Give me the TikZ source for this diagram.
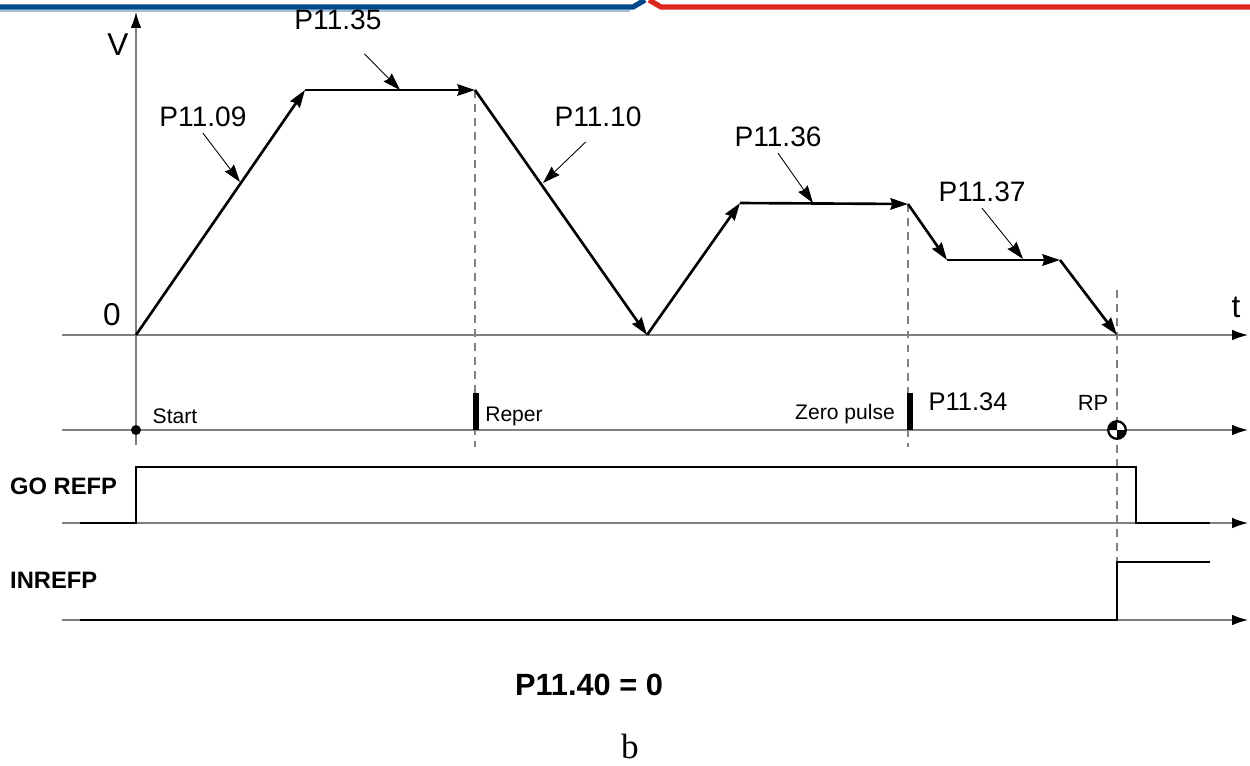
\documentclass[tikz,border=0pt]{standalone}
\usepackage{fontspec}
\setmainfont{Liberation Serif}
\setsansfont{Liberation Sans}
\usetikzlibrary{arrows.meta}
\definecolor{hdrblue}{RGB}{0,72,140}
\definecolor{hdrred}{RGB}{220,40,30}
\tikzset{
  axis/.style={gray,line width=0.8pt,-{Latex[length=9pt,width=6pt,color=black]}},
  prof/.style={line width=1.5pt,-{Stealth[length=10pt,width=6.5pt,inset=1pt]}},
  pointer/.style={line width=0.5pt,-{Stealth[length=10pt,width=6.5pt,inset=1pt]}},
  sig/.style={line width=1.6pt},
  guide/.style={gray,line width=0.7pt,dash pattern=on 4.5pt off 3.5pt},
  lbl/.style={font=\sffamily\fontsize{16}{18}\selectfont},
  tag/.style={font=\sffamily\fontsize{12}{14}\selectfont},
  signame/.style={font=\sffamily\bfseries\fontsize{13.5}{15}\selectfont,anchor=west}
}
\begin{document}
\begin{tikzpicture}[x=0.02cm,y=-0.02cm]
	\useasboundingbox (0,0) rectangle (1250,765);
	\draw [hdrblue,line width=3pt] (0,7) -- (633,7) -- (645,0);
	\draw [hdrblue!35,line width=0.8pt] (0,11) -- (630,11);
	\draw [hdrred,line width=3pt] (649,0) -- (661,7) -- (1250,7);

	\draw [axis] (136,445) -- (136,12);
	\foreach \y in {335,430,523,620}
		\draw [axis] (62,\y) -- (1248,\y);
	\node [lbl,font=\sffamily\fontsize{18}{20}\selectfont] (v) at (118,45) {V};
	\node [lbl,font=\sffamily\fontsize{18}{20}\selectfont] (zero) at (112,315) {0};
	\node [lbl,font=\sffamily\fontsize{18}{20}\selectfont] (t) at (1236,307) {t};

	\coordinate (p0) at (136,335);
	\coordinate (p1) at (305,90);
	\coordinate (p2) at (475,90);
	\coordinate (p3) at (647,335);
	\coordinate (p4) at (740,203);
	\coordinate (p5) at (908,204);
	\coordinate (p6) at (947,260);
	\coordinate (p7) at (1060,260);
	\coordinate (p8) at (1117,335);
	\draw [guide] (p2) -- (475,447);
	\draw [guide] (p5) -- (908,447);
	\draw [guide] (1117,290) -- (1117,562);
	\foreach \a/\b in {p0/p1,p1/p2,p2/p3,p3/p4,p4/p5,p5/p6,p6/p7,p7/p8}
		\draw [prof] (\a) -- (\b);

	\node [lbl] (l35) at (338,20) {P11.35};
	\node [lbl] (l09) at (203,117) {P11.09};
	\node [lbl] (l10) at (598,117) {P11.10};
	\node [lbl] (l36) at (778,137) {P11.36};
	\node [lbl] (l37) at (982,192) {P11.37};
	\coordinate (a35) at (400,90);
	\coordinate (a09) at (240,182);
	\coordinate (a10) at (543,183);
	\coordinate (a36) at (813,203);
	\coordinate (a37) at (1023,259);
	\draw [pointer] ([xshift=15pt,yshift=-10pt]l35.south) -- (a35);
	\draw [pointer] (l09.south) -- (a09);
	\draw [pointer] ([xshift=-7pt,yshift=-5pt]l10.south) -- (a10);
	\draw [pointer] (l36.south) -- (a36);
	\draw [pointer] (l37.south) -- (a37);

	\fill (136,430) circle (5);
	\node [tag] (start) at (175,416) {Start};
	\draw [line width=3pt] (476,393) -- (476,430);
	\node [tag] (reper) at (514,416) {Reper};
	\draw [line width=3pt] (910,393) -- (910,430);
	\node [tag] (zp) at (845,414) {Zero pulse};
	\node [lbl,font=\sffamily\fontsize{14.5}{17}\selectfont] (l34) at (968,402) {P11.34};
	\coordinate (rp) at (1117,430);
	\fill [white] (rp) circle (5pt);
	\fill (rp) -- ++(180:5pt) arc [start angle=180,end angle=90,radius=5pt] -- cycle;
	\fill (rp) -- ++(0:5pt) arc [start angle=0,end angle=-90,radius=5pt] -- cycle;
	\draw [line width=1.3pt] (rp) circle (5pt);
	\node [tag,font=\sffamily\fontsize{12.5}{14}\selectfont] (rplbl) at (1093,403) {RP};

	\node [signame] (go) at (4,486) {GO REFP};
	\draw [sig] (80,523) -- (136,523) -- (136,467) -- (1136,467) -- (1136,523) -- (1210,523);
	\node [signame] (inref) at (4,580) {INREFP};
	\draw [sig] (80,620) -- (1117,620) -- (1117,562) -- (1210,562);

	\node [font=\sffamily\bfseries\fontsize{17.5}{20}\selectfont] (cond) at (589,685) {P11.40 = 0};
	\node [font=\fontsize{20}{22}\selectfont] (cap) at (630,746) {b};
\end{tikzpicture}
\end{document}
